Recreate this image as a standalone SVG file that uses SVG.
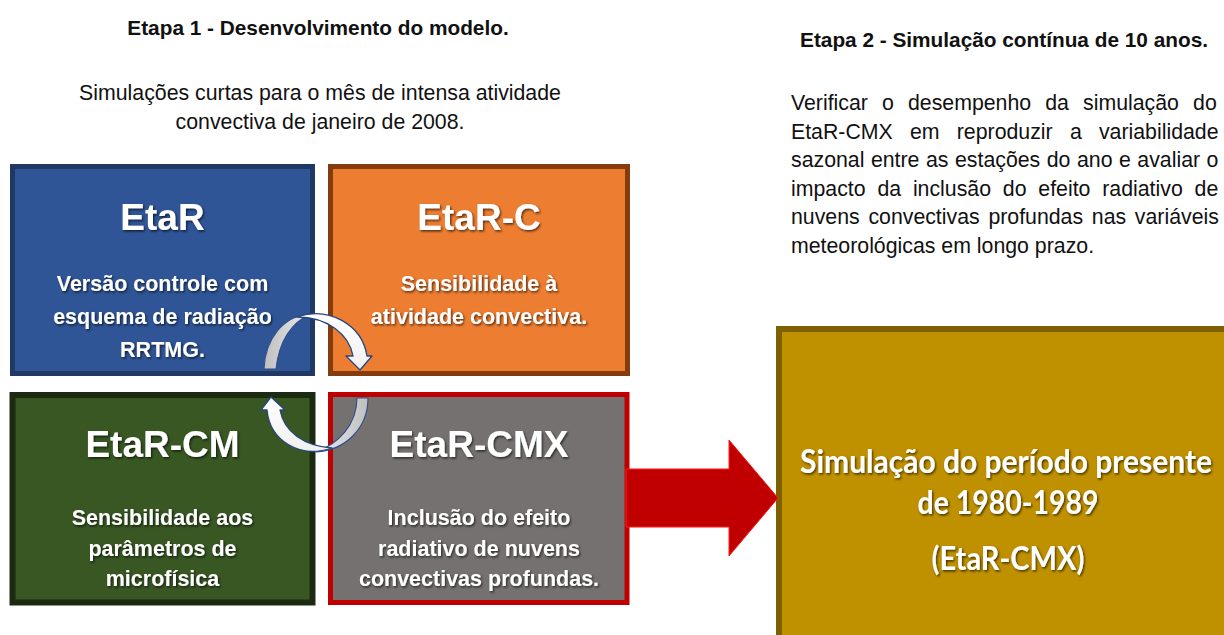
<svg xmlns="http://www.w3.org/2000/svg" width="1224" height="635" viewBox="0 0 1224 635">
<defs>
<filter id="sh" x="-5%" y="-20%" width="110%" height="150%">
<feDropShadow dx="1.2" dy="1.5" stdDeviation="1" flood-color="#000" flood-opacity="0.65"/>
</filter>
<linearGradient id="gBack" x1="0" y1="0" x2="1" y2="0">
<stop offset="0" stop-color="#bfbfbf"/>
<stop offset="1" stop-color="#ececec"/>
</linearGradient>
<linearGradient id="gBack2" x1="1" y1="0" x2="0" y2="0">
<stop offset="0" stop-color="#bfbfbf"/>
<stop offset="1" stop-color="#ececec"/>
</linearGradient>
<linearGradient id="gFront" x1="0" y1="0" x2="0" y2="1">
<stop offset="0" stop-color="#ffffff"/>
<stop offset="1" stop-color="#f0f0f0"/>
</linearGradient>
<style>
.head{font-family:"Liberation Sans",Arial,sans-serif;font-weight:bold;font-size:20.8px;fill:#111}
.plain{font-family:"Liberation Sans",Arial,sans-serif;font-size:21.3px;fill:#111}
.bt{font-family:"Liberation Sans",Arial,sans-serif;font-weight:bold;font-size:37px;fill:#fff;text-anchor:middle;filter:url(#sh)}
.bs{font-family:"Liberation Sans",Arial,sans-serif;font-weight:bold;font-size:21.5px;fill:#fff;text-anchor:middle;filter:url(#sh)}
.gt{font-family:Lato,"Open Sans",sans-serif;font-weight:bold;font-size:32px;fill:#fff;text-anchor:middle;filter:url(#sh)}
.back{stroke:#2f4f8a;stroke-width:1.1}
.front{fill:url(#gFront);stroke:#27467f;stroke-width:1.3;stroke-linejoin:round}
</style>
</defs>
<rect width="1224" height="635" fill="#fff"/>

<g id="header-etapa1">
<text class="head" x="318" y="35" text-anchor="middle">Etapa 1 - Desenvolvimento do modelo.</text>
<text class="plain" x="320" y="100" text-anchor="middle">Simulações curtas para o mês de intensa atividade</text>
<text class="plain" x="320" y="129" text-anchor="middle">convectiva de janeiro de 2008.</text>
</g>

<g id="header-etapa2">
<text class="head" x="1004" y="47" text-anchor="middle">Etapa 2 - Simulação contínua de 10 anos.</text>
<text class="plain" x="791" y="110" word-spacing="8.2">Verificar o desempenho da simulação do</text>
<text class="plain" x="791" y="138.5" word-spacing="11.3">EtaR-CMX em reproduzir a variabilidade</text>
<text class="plain" x="791" y="167" word-spacing="0.6">sazonal entre as estações do ano e avaliar o</text>
<text class="plain" x="791" y="195.5" word-spacing="5.9">impacto da inclusão do efeito radiativo de</text>
<text class="plain" x="791" y="224" word-spacing="2.8">nuvens convectivas profundas nas variáveis</text>
<text class="plain" x="791" y="252.5">meteorológicas em longo prazo.</text>
</g>

<g id="node-etar">
<rect x="12.5" y="166.5" width="300" height="207" fill="#2f5597" stroke="#1f3864" stroke-width="5"/>
<text class="bt" x="162.5" y="230">EtaR</text>
<text class="bs" x="162.5" y="291">Versão controle com</text>
<text class="bs" x="162.5" y="324">esquema de radiação</text>
<text class="bs" x="162.5" y="357">RRTMG.</text>
</g>

<g id="node-etar-c">
<rect x="330.5" y="166.5" width="297" height="207" fill="#ed7d31" stroke="#843c0c" stroke-width="5"/>
<text class="bt" x="479" y="230">EtaR-C</text>
<text class="bs" x="479" y="291">Sensibilidade à</text>
<text class="bs" x="479" y="324">atividade convectiva.</text>
</g>

<g id="node-etar-cm">
<rect x="12.5" y="395" width="300" height="207.5" fill="#385723" stroke="#1c2a11" stroke-width="6"/>
<text class="bt" x="162.5" y="457">EtaR-CM</text>
<text class="bs" x="162.5" y="525">Sensibilidade aos</text>
<text class="bs" x="162.5" y="556">parâmetros de</text>
<text class="bs" x="162.5" y="586">microfísica</text>
</g>

<g id="node-etar-cmx">
<rect x="330.5" y="394.5" width="296.5" height="208" fill="#767171" stroke="#c00000" stroke-width="5"/>
<text class="bt" x="479" y="457">EtaR-CMX</text>
<text class="bs" x="479" y="525">Inclusão do efeito</text>
<text class="bs" x="479" y="556">radiativo de nuvens</text>
<text class="bs" x="479" y="586">convectivas profundas.</text>
</g>

<g id="node-simulacao">
<rect x="779" y="329" width="460" height="320" fill="#bf9000" stroke="#7f6000" stroke-width="6"/>
<text class="gt" x="1006" y="473" textLength="412" lengthAdjust="spacingAndGlyphs">Simulação do período presente</text>
<text class="gt" x="1008" y="514" textLength="181" lengthAdjust="spacingAndGlyphs">de 1980-1989</text>
<text class="gt" x="1008" y="570" textLength="153" lengthAdjust="spacingAndGlyphs">(EtaR-CMX)</text>
</g>

<g id="connectors">
<path d="M626,469 L729,469 L729,440 L778,498 L729,556 L729,527 L626,527 Z" fill="#c00000" stroke="#ff1a1a" stroke-width="1"/>
<path class="back" fill="url(#gBack)" d="M264,369 C265,340 283,315 311,314 C291,322 279,342 276,369 Z"/>
<path class="front" d="M297,317 C328,306 362,324 367,356 L372,356 L360,370 L346,356 L353,356 C349,334 327,317 297,317 Z"/>
<path class="back" fill="url(#gBack2)" d="M357,398 L368,398 C368,428 346,450 316,452 C338,444 357,425 357,398 Z"/>
<path class="front" d="M332,448 C300,459 270,441 267,410 L261,410 L271,397 L285,410 L280,410 C284,432 304,446 332,448 Z"/>
</g>
</svg>
